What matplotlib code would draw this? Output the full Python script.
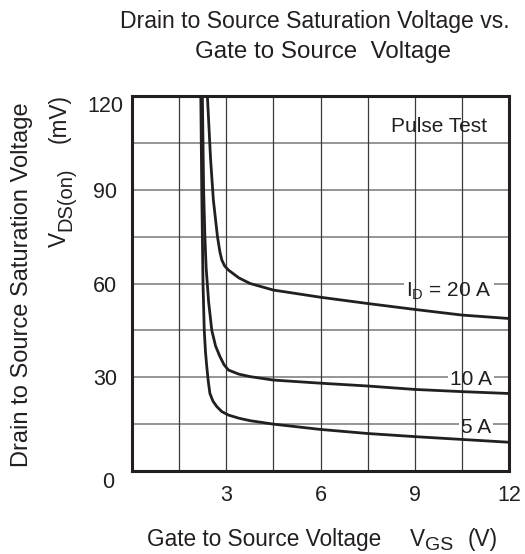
import matplotlib
matplotlib.use("Agg")
import matplotlib.pyplot as plt

plt.rcParams['font.family'] = ['Liberation Sans', 'DejaVu Sans']
plt.rcParams['mathtext.fontset'] = 'custom'
plt.rcParams['mathtext.rm'] = 'Liberation Sans'
plt.rcParams['mathtext.it'] = 'Liberation Sans'

# data (VGS in V, VDS(on) in mV)
vgs_5a = [2.19, 2.22, 2.26, 2.30, 2.34, 2.38, 2.43, 2.48, 2.58, 2.70, 2.86, 3.07, 3.4, 3.76, 4.5, 6.0, 7.5, 9.0, 10.5, 12.0]
vds_5a = [120, 90, 60, 45, 38, 33.4, 28.5, 24.8, 22.3, 20.6, 19.0, 17.9, 16.9, 16.1, 15.0, 13.3, 12.0, 11.0, 10.1, 9.2]

vgs_10a = [2.24, 2.28, 2.32, 2.36, 2.44, 2.54, 2.66, 2.80, 2.93, 3.07, 3.4, 3.76, 4.5, 6.0, 7.5, 9.0, 10.5, 12.0]
vds_10a = [120, 90, 75, 65, 54, 45, 40, 36.6, 34.0, 32.3, 31.0, 30.2, 29.1, 28.1, 27.2, 26.1, 25.4, 24.8]

vgs_20a = [2.40, 2.50, 2.59, 2.72, 2.80, 2.86, 2.95, 3.07, 3.4, 3.76, 4.5, 6.0, 7.5, 9.0, 10.5, 12.0]
vds_20a = [120, 100, 86.7, 75, 70, 67.5, 65.6, 64.3, 61.8, 60.0, 57.9, 55.6, 53.6, 51.7, 49.9, 48.8]

curve_labels = [r'I$_\mathregular{D}$ = 20 A', '10 A', '5 A']
label_pos = [(11.45, 55.7), (11.45, 27.5), (11.43, 12.2)]

x_ticks = [3, 6, 9, 12]
y_ticks = [30, 60, 90, 120]

W, H = 525, 554
fig = plt.figure(figsize=(W / 100, H / 100), dpi=100)
ax = fig.add_axes([132 / W, 1 - 471 / H, (509 - 132) / W, (471 - 96) / H])


def fx(px):
    return px / W


def fy(py):
    return 1 - py / H


tc = '#231f20'
ax.set_xlim(0, 12)
ax.set_ylim(0, 120)

for yv in [15 * i for i in range(1, 8)]:
    ax.axhline(yv, color='#8c8c8c', lw=1.3, zorder=1)
for xv in [1.5 * i for i in range(1, 8)]:
    ax.axvline(xv, color='#3a3a3a', lw=0.9, zorder=2)

for xs, ys in [(vgs_5a, vds_5a), (vgs_10a, vds_10a), (vgs_20a, vds_20a)]:
    ax.plot(xs, ys, color=tc, lw=2.0, zorder=3, solid_capstyle='butt')

for lab, (lx, ly) in zip(curve_labels, label_pos):
    # white gap in the horizontal grid line only
    ax.text(lx, ly, lab, fontsize=15, color='none', ha='right', va='baseline', zorder=1.5,
            bbox=dict(facecolor='white', edgecolor='none', pad=1.5))
    ax.text(lx, ly, lab, fontsize=15, color=tc, ha='right', va='baseline', zorder=4)

ax.text(11.3, (471 - 132) / 3.125, 'Pulse Test', fontsize=15, color=tc,
        ha='right', va='baseline', zorder=4)

for s in ax.spines.values():
    s.set_linewidth(2.2)
    s.set_color(tc)
    s.set_zorder(5)

ax.set_xticks(x_ticks)
ax.set_yticks(y_ticks)
ax.set_xticklabels([str(v) for v in x_ticks])
ax.set_yticklabels([str(v) for v in y_ticks])
ax.tick_params(axis='both', length=0, labelsize=15.5, labelcolor=tc)
ax.tick_params(axis='x', pad=10)
ax.tick_params(axis='y', pad=19.5)
for t in ax.get_yticklabels():
    t.set_horizontalalignment('center')
ax.get_yticklabels()[-1].set_verticalalignment('top')

fig.text(fx(108), fy(483), '0', fontsize=15.5, color=tc, ha='center', va='center')

# title
fig.text(fx(315), fy(28), 'Drain to Source Saturation Voltage vs.', fontsize=16.6,
         color=tc, ha='center', va='baseline')
fig.text(fx(323), fy(58), 'Gate to Source  Voltage', fontsize=17.4,
         color=tc, ha='center', va='baseline')

# x axis label
fig.text(fx(147), fy(546), 'Gate to Source Voltage', fontsize=16.3, color=tc,
         ha='left', va='baseline')
fig.text(fx(410), fy(546), 'V', fontsize=16.3, color=tc, ha='left', va='baseline')
fig.text(fx(425), fy(550), 'GS', fontsize=14, color=tc, ha='left', va='baseline')
fig.text(fx(468), fy(546), '(V)', fontsize=16.3, color=tc, ha='left', va='baseline')

# y axis label (rotated)
fig.text(fx(28), fy(467), 'Drain to Source Saturation Voltage', fontsize=17,
         color=tc, ha='left', va='baseline', rotation=90, rotation_mode='anchor')
fig.text(fx(66), fy(247), 'V', fontsize=16.3, color=tc, ha='left', va='baseline',
         rotation=90, rotation_mode='anchor')
fig.text(fx(71), fy(231), 'DS(on)', fontsize=14.5, color=tc, ha='left', va='baseline',
         rotation=90, rotation_mode='anchor')
fig.text(fx(66), fy(143), '(mV)', fontsize=16.3, color=tc, ha='left', va='baseline',
         rotation=90, rotation_mode='anchor')

fig.savefig('out.png', dpi=100)
